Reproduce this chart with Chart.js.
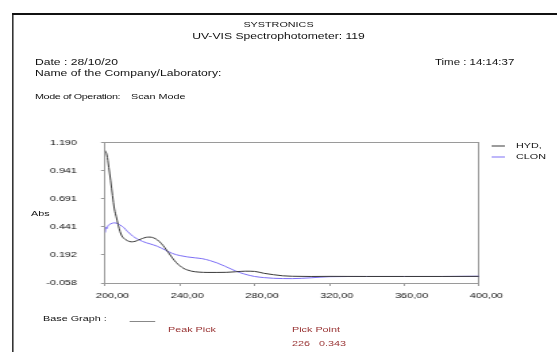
<!DOCTYPE html>
<html lang="en">
<head>
    <meta charset="UTF-8">
    <title>UV-VIS scan</title>
    <script src="https://cdn.jsdelivr.net/npm/chart.js"></script>
    <style>
        html, body {
            margin: 0;
            padding: 0;
            background: #fff;
            overflow: hidden;
            width: 557px;
            height: 352px;
        }
        /* the printout is a bit stretched sideways, so the whole page is too */
        #page {
            position: absolute;
            left: 0;
            top: 0;
            width: 412.6px;
            height: 352px;
            transform: scaleX(1.35);
            transform-origin: 0 0;
            font: 8px "Liberation Sans", Arial, sans-serif;
            color: #111;
        }
        .frame {
            position: absolute;
            left: 8.9px;
            top: 13px;
            width: 600px;
            height: 400px;
            border-left: 1.5px solid #111;
            border-top: 2px solid #111;
        }
        .t {
            position: absolute;
            white-space: pre;
            line-height: 10px;
        }
        .big { font-size: 9px; }
        .mid { font-size: 8.5px; }
        .tight { letter-spacing: -0.3px; }
        .center { left: 0; width: 100%; text-align: center; }
        .red { color: #933; }
        #wrap {
            position: absolute;
            left: 0;
            top: 120px;
            width: 412px;
            height: 190px;
        }
        #legend {
            position: absolute;
            left: 364.4px;
            top: 140px;
        }
        #legend div {
            height: 11.3px;
            line-height: 11.3px;
            white-space: nowrap;
        }
        #legend span.ln {
            display: inline-block;
            width: 9.6px;
            height: 0;
            border-top: 2px solid;
            opacity: 0.5;
            vertical-align: middle;
            margin-right: 8.2px;
        }
    </style>
</head>
<body>
<div id="page">
    <div class="frame"></div>
    <div class="t center" style="top:20px">SYSTRONICS</div>
    <div class="t center big" style="top:31px">UV-VIS Spectrophotometer: 119</div>
    <div class="t big" style="left:25.9px;top:57px">Date : 28/10/20</div>
    <div class="t big" style="left:25.9px;top:67.5px">Name of the Company/Laboratory:</div>
    <div class="t mid" style="left:322.2px;top:57px">Time : 14:14:37</div>
    <div class="t tight" style="left:25.9px;top:92px">Mode of Operation:</div>
    <div class="t" style="left:97px;top:92px">Scan Mode</div>
    <div class="t" style="left:23px;top:209px">Abs</div>
    <div class="t" style="left:31.9px;top:314px">Base Graph :</div>
    <div style="position:absolute;left:96.3px;top:321px;width:18.5px;border-top:1px solid #888"></div>
    <div class="t red" style="left:124.4px;top:325px">Peak Pick</div>
    <div class="t red" style="left:216.3px;top:325px">Pick Point</div>
    <div class="t red" style="left:216.3px;top:339px">226   0.343</div>
    <div id="wrap"><canvas id="scanChart"></canvas></div>
    <div id="legend"></div>
</div>
<script>
    // wavelength (nm) / absorbance
    const hydNm  = [200, 201, 202, 203, 204, 205, 206, 207, 208, 209, 210, 212, 214, 216, 218, 220, 222, 224, 226, 228, 230, 232, 234, 236, 238, 240, 242, 244, 246, 250, 255, 260, 265, 270, 275, 280, 285, 290, 295, 300, 310, 320, 340, 360, 380, 400];
    const hydAbs = [1.12, 1.08, 0.97, 0.85, 0.72, 0.60, 0.53, 0.46, 0.40, 0.36, 0.34, 0.318, 0.308, 0.312, 0.325, 0.338, 0.348, 0.350, 0.343, 0.325, 0.295, 0.255, 0.21, 0.165, 0.125, 0.095, 0.072, 0.058, 0.048, 0.039, 0.036, 0.036, 0.037, 0.042, 0.047, 0.045, 0.028, 0.016, 0.006, 0.002, 0.0, 0.001, 0.0, 0.0, 0.0, 0.001];

    const clonNm  = [200, 200.5, 201, 201.5, 202, 203, 204, 205, 206, 207, 208, 210, 212, 214, 216, 218, 220, 222, 224, 226, 228, 230, 232, 234, 236, 238, 240, 244, 248, 252, 256, 260, 264, 268, 272, 276, 280, 285, 290, 300, 310, 320, 340, 360, 380, 400];
    const clonAbs = [0.39, 0.44, 0.425, 0.45, 0.458, 0.468, 0.474, 0.477, 0.474, 0.468, 0.458, 0.435, 0.40, 0.37, 0.345, 0.328, 0.312, 0.30, 0.29, 0.28, 0.268, 0.253, 0.237, 0.22, 0.205, 0.194, 0.186, 0.174, 0.166, 0.158, 0.142, 0.12, 0.092, 0.062, 0.035, 0.015, 0.0, -0.01, -0.016, -0.019, -0.012, -0.002, 0.0, 0.0, 0.0, 0.002];

    const seriesNames = ['HYD,', 'CLON'];
    const seriesColors = ['#3a3a3a', '#7d6ff5'];

    const yTicks = [-0.058, 0.192, 0.441, 0.691, 0.941, 1.190];
    const xTicks = [200, 240, 280, 320, 360, 400];

    function toPoints(xs, ys) {
        return xs.map((x, i) => ({ x: x, y: ys[i] }));
    }

    const axisGrey = '#9a9a9a';
    const tickFont = { family: '"Liberation Sans", Arial', size: 8 };

    const ctx = document.getElementById('scanChart').getContext('2d');
    const chart = new Chart(ctx, {
        type: 'line',
        data: {
            datasets: [
                {
                    label: seriesNames[0],
                    data: toPoints(hydNm, hydAbs),
                    borderColor: seriesColors[0],
                    backgroundColor: seriesColors[0],
                    borderWidth: 1,
                    pointRadius: 0,
                    cubicInterpolationMode: 'monotone'
                },
                {
                    label: seriesNames[1],
                    data: toPoints(clonNm, clonAbs),
                    borderColor: seriesColors[1],
                    backgroundColor: seriesColors[1],
                    borderWidth: 1,
                    pointRadius: 0,
                    cubicInterpolationMode: 'monotone'
                }
            ]
        },
        options: {
            responsive: true,
            maintainAspectRatio: false,
            animation: false,
            layout: {
                padding: { top: 14, right: 57.2, bottom: 7, left: 0 }
            },
            scales: {
                x: {
                    type: 'linear',
                    position: 'bottom',
                    min: 200,
                    max: 400,
                    afterBuildTicks: s => { s.ticks = xTicks.map(v => ({ value: v })); },
                    afterFit: s => { s.height = 20; },
                    ticks: {
                        autoSkip: false,
                        maxRotation: 0,
                        padding: 5,
                        labelOffset: 5.5,
                        color: '#111',
                        font: tickFont,
                        callback: v => v.toFixed(2).replace('.', ',')
                    },
                    grid: { display: true, drawOnChartArea: false, drawTicks: true, tickLength: 3, color: axisGrey },
                    border: { display: true, color: axisGrey, width: 1 }
                },
                y: {
                    type: 'linear',
                    position: 'left',
                    min: -0.058,
                    max: 1.190,
                    afterBuildTicks: s => { s.ticks = yTicks.map(v => ({ value: v })); },
                    afterFit: s => { s.width = 77.8; },
                    ticks: {
                        padding: 17.8,
                        color: '#111',
                        font: tickFont,
                        callback: v => v.toFixed(3)
                    },
                    grid: { display: true, drawOnChartArea: false, drawTicks: true, tickLength: 3, color: axisGrey },
                    border: { display: true, color: axisGrey, width: 1 }
                },
                xTop: {
                    type: 'linear',
                    position: 'top',
                    min: 200,
                    max: 400,
                    afterFit: s => { s.height = 0; },
                    ticks: { display: false },
                    grid: { display: false, drawTicks: false },
                    border: { display: true, color: axisGrey, width: 1 }
                },
                yRight: {
                    type: 'linear',
                    position: 'right',
                    min: -0.058,
                    max: 1.190,
                    afterFit: s => { s.width = 0; },
                    ticks: { display: false },
                    grid: { display: false, drawTicks: false },
                    border: { display: true, color: axisGrey, width: 1 }
                }
            },
            plugins: {
                legend: { display: false },
                tooltip: { enabled: false }
            }
        }
    });

    // html legend built from the chart's own legend items
    const legendItems = chart.options.plugins.legend.labels.generateLabels(chart);
    document.getElementById('legend').innerHTML = legendItems.map(item =>
        `<div><span class="ln" style="border-color:${item.strokeStyle}"></span>${item.text}</div>`
    ).join('');
</script>
</body>
</html>
